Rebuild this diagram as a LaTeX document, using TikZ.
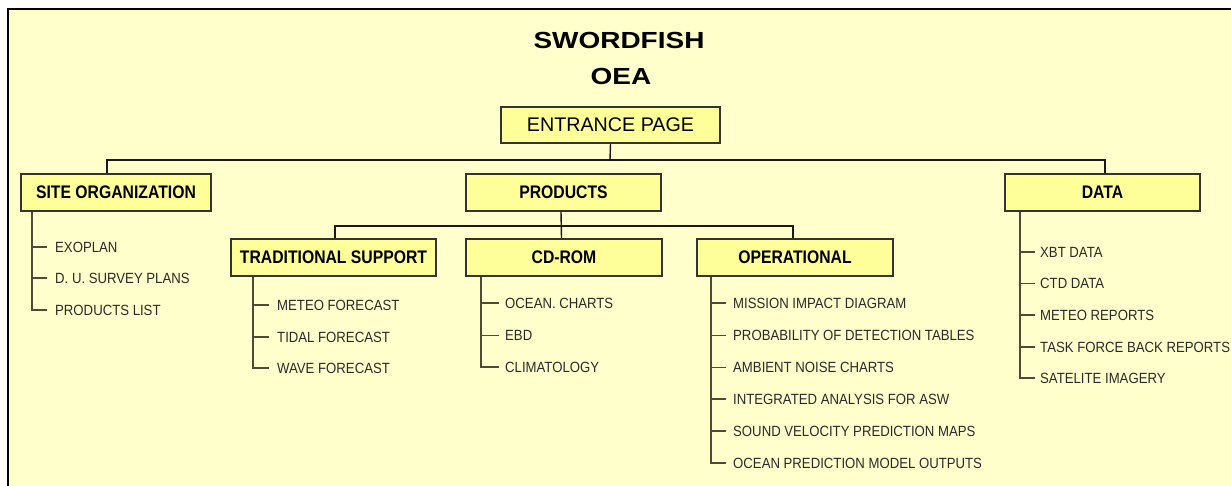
\documentclass[tikz,border=0pt]{standalone}
\usepackage{fontspec}
\setmainfont{Liberation Sans}
\newfontfamily\leaffont[FakeStretch=0.89]{Liberation Sans}
\newfontfamily\boxfont[FakeStretch=0.865]{Liberation Sans}
\newfontfamily\titlefont[FakeStretch=1.2]{Liberation Sans}
\usetikzlibrary{positioning}
\usetikzlibrary{calc}
\definecolor{paper}{HTML}{FFFFCC}
\definecolor{boxfill}{HTML}{FFFF99}
\definecolor{twiggray}{HTML}{4D4A3A}
\definecolor{inkgray}{HTML}{2A2A2A}

\begin{document}
\begin{tikzpicture}[x=1pt, y=-1pt,
	headbox/.style={rectangle,draw=black!80,line width=1.6pt,fill=boxfill,minimum height=37pt,inner sep=0pt,font=\boxfont\bfseries\fontsize{18.2}{20}\selectfont},
	leaf/.style={anchor=west,inner sep=0pt,text=inkgray,font=\leaffont\fontsize{14.8}{16}\selectfont},
	wire/.style={draw=black!90,line width=1.4pt},
	twig/.style={draw=twiggray,line width=1.9pt}]
	\useasboundingbox (0,0) rectangle (1231,486);
	\fill[white] (0,0) rectangle (1231,486);
	\fill[paper] (8,9) rectangle (1245,500);
	\draw[black,line width=1.5pt] (8,500) -- (8,9) -- (1245,9);
	% title
	\node[inner sep=0pt,font=\titlefont\bfseries\fontsize{23.3}{26}\selectfont](ttl) at (619,40){SWORDFISH};
	\node[inner sep=0pt,font=\titlefont\bfseries\fontsize{23.3}{26}\selectfont](ttl2) at (621,76){OEA};
	% boxes
	\node[headbox,minimum width=219pt,minimum height=36pt,font=\fontsize{19.7}{22}\selectfont](entr) at (610.5,125){ENTRANCE PAGE};
	\node[headbox,minimum width=190pt](site) at (116,192.5){SITE ORGANIZATION};
	\node[headbox,minimum width=195pt](prod) at (563.5,192.5){PRODUCTS};
	\node[headbox,minimum width=195pt](data) at (1102.5,192.5){DATA};
	\node[headbox,minimum width=205pt](trad) at (333.5,257.5){TRADITIONAL SUPPORT};
	\node[headbox,minimum width=196pt](cd) at (564,257.5){CD-ROM};
	\node[headbox,minimum width=196pt](oper) at (795,257.5){OPERATIONAL};
	% connectors
	\coordinate (top) at (610,160);
	\coordinate (mid) at (561,226);
	\draw[wire] (entr.south) -- (top);
	\draw[wire] ([xshift=-9pt]site.north) |- (top) -| ([xshift=2.5pt]data.north);
	\draw[wire] ([xshift=-2.5pt]prod.south) -- ([xshift=-2.5pt]cd.north);
	\draw[wire] ([xshift=1.5pt]trad.north) |- (mid) -| ([xshift=-2pt]oper.north);
	% leaves
	\node[leaf](s1) at (55,247){EXOPLAN};
	\node[leaf](s2) at (55,278){D. U. SURVEY PLANS};
	\node[leaf](s3) at (55,310){PRODUCTS LIST};
	\node[leaf](t1) at (277,305){METEO FORECAST};
	\node[leaf](t2) at (277,337){TIDAL FORECAST};
	\node[leaf](t3) at (277,368){WAVE FORECAST};
	\node[leaf](c1) at (505,303){OCEAN. CHARTS};
	\node[leaf](c2) at (505,335.5){EBD};
	\node[leaf](c3) at (505,367){CLIMATOLOGY};
	\node[leaf](o1) at (733,303){MISSION IMPACT DIAGRAM};
	\node[leaf](o2) at (733,335.5){PROBABILITY OF DETECTION TABLES};
	\node[leaf](o3) at (733,367.5){AMBIENT NOISE CHARTS};
	\node[leaf](o4) at (733,399){INTEGRATED ANALYSIS FOR ASW};
	\node[leaf](o5) at (733,431){SOUND VELOCITY PREDICTION MAPS};
	\node[leaf](o6) at (733,463){OCEAN PREDICTION MODEL OUTPUTS};
	\node[leaf](d1) at (1040,252){XBT DATA};
	\node[leaf](d2) at (1040,283.5){CTD DATA};
	\node[leaf](d3) at (1040,315){METEO REPORTS};
	\node[leaf](d4) at (1040,347){TASK FORCE BACK REPORTS};
	\node[leaf](d5) at (1040,378){SATELITE IMAGERY};
	% leaf lines
	\draw[twig] ([xshift=12pt]site.south west) |- ([xshift=-8pt]s3.west);
	\foreach \n in {s1,s2} \draw[twig] (\n.west -| 33,0) -- ([xshift=-8pt]\n.west);
	\draw[twig] ([xshift=23pt]trad.south west) |- ([xshift=-8pt]t3.west);
	\foreach \n in {t1,t2} \draw[twig] (\n.west -| 254,0) -- ([xshift=-8pt]\n.west);
	\draw[twig] ([xshift=16pt]cd.south west) |- ([xshift=-6pt]c3.west);
	\foreach \n in {c1,c2} \draw[twig] (\n.west -| 482,0) -- ([xshift=-6pt]\n.west);
	\draw[twig] ([xshift=15pt]oper.south west) |- ([xshift=-7pt]o6.west);
	\foreach \n in {o1,o2,o3,o4,o5} \draw[twig] (\n.west -| 712,0) -- ([xshift=-7pt]\n.west);
	\draw[twig] ([xshift=16pt]data.south west) |- ([xshift=-5pt]d5.west);
	\foreach \n in {d1,d2,d3,d4} \draw[twig] (\n.west -| 1021,0) -- ([xshift=-5pt]\n.west);
\end{tikzpicture}
\end{document}
